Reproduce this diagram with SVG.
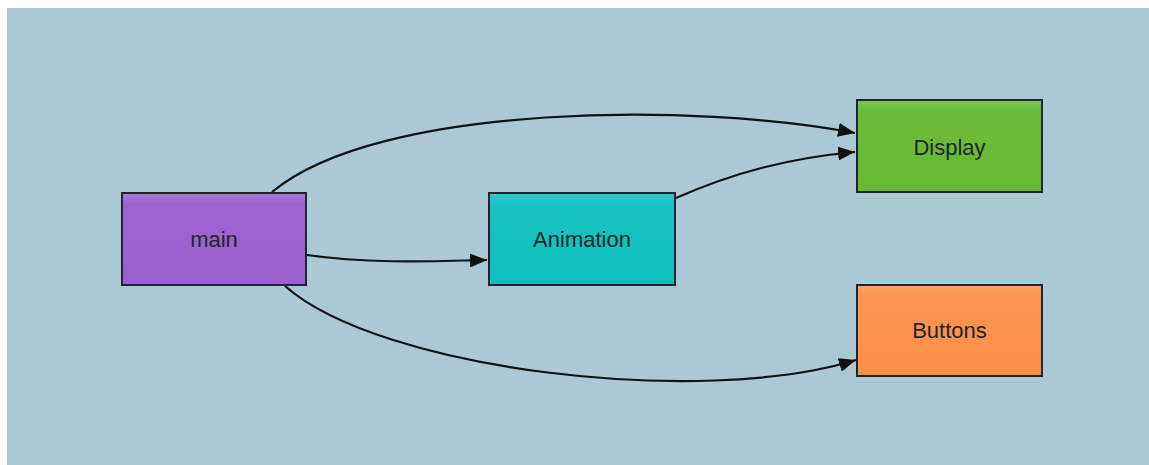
<svg xmlns="http://www.w3.org/2000/svg" width="1149" height="465" viewBox="0 0 1149 465">
  <style>
    .box { stroke: #1e262b; stroke-width: 2; }
    .gloss { fill: url(#gloss); }
    .label { font-family: "Liberation Sans", Arial, sans-serif; font-size: 22px; fill: #1c2628; text-anchor: middle; }
    .edge { fill: none; stroke: #111; stroke-width: 2.2; marker-end: url(#arrow); }
  </style>
  <defs>
    <marker id="arrow" markerWidth="18" markerHeight="14" refX="17" refY="7" orient="auto" markerUnits="userSpaceOnUse">
      <path d="M0,0 L17,7 L0,14 Z" fill="#111"/>
    </marker>
    <!-- faint highlight along the top edge of each box -->
    <linearGradient id="gloss" x1="0" y1="0" x2="0" y2="1">
      <stop offset="0" stop-color="#fff" stop-opacity="0.16"/>
      <stop offset="0.1" stop-color="#fff" stop-opacity="0.04"/>
      <stop offset="1" stop-color="#fff" stop-opacity="0"/>
    </linearGradient>
  </defs>

  <!-- page and canvas -->
  <rect x="0" y="0" width="1149" height="465" fill="#ffffff"/>
  <rect x="7" y="8" width="1142" height="457" fill="#acc8d5"/>

  <!-- connectors -->
  <g id="connectors">
    <path class="edge" d="M272,192 C380,102 700,103 855,133"/>
    <path class="edge" d="M676,198 C735,172 790,158 855,152"/>
    <path class="edge" d="M307,255 C360,263 420,262 487,260"/>
    <path class="edge" d="M285,286 C380,370 700,408 856,360"/>
  </g>

  <g id="main">
    <rect class="box" x="122" y="193" width="184" height="92" fill="#9a5fd0"/>
    <rect class="gloss" x="123" y="194" width="182" height="90"/>
    <text class="label" x="214" y="247">main</text>
  </g>

  <g id="animation">
    <rect class="box" x="489" y="193" width="186" height="92" fill="#0fbfc0"/>
    <rect class="gloss" x="490" y="194" width="184" height="90"/>
    <text class="label" x="582" y="247">Animation</text>
  </g>

  <g id="display">
    <rect class="box" x="857" y="100" width="185" height="92" fill="#66ba33"/>
    <rect class="gloss" x="858" y="101" width="183" height="90"/>
    <text class="label" x="949.5" y="155">Display</text>
  </g>

  <g id="buttons">
    <rect class="box" x="857" y="285" width="185" height="91" fill="#fb904b"/>
    <rect class="gloss" x="858" y="286" width="183" height="89"/>
    <text class="label" x="949.5" y="338">Buttons</text>
  </g>
</svg>
